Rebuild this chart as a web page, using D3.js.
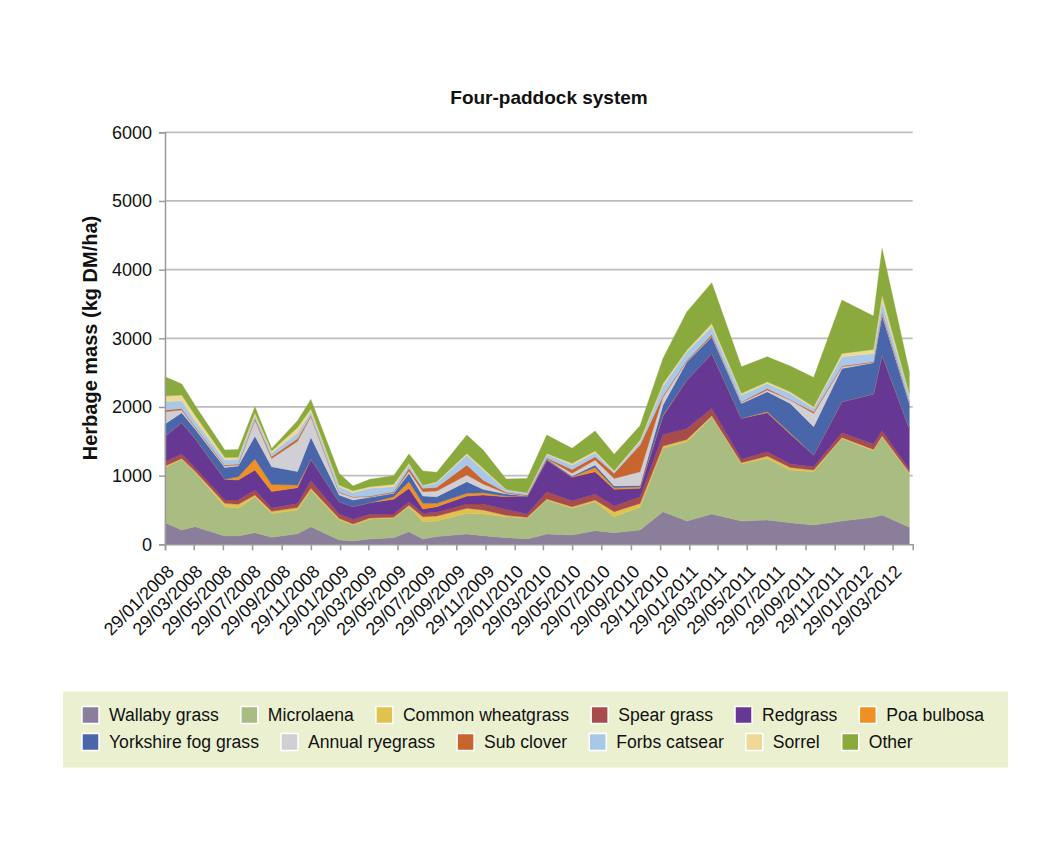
<!DOCTYPE html>
<html><head><meta charset="utf-8">
<script src="https://cdn.jsdelivr.net/npm/d3@7"></script>
<style>
body{margin:0;background:#fff;}
svg{display:block;font-family:"Liberation Sans",Arial,Helvetica,sans-serif;}
</style>
</head><body>
<svg id="c" width="1040" height="868"></svg>
<script>
// ---- data ----
const dates = ["29/01/2008","04/03/2008","01/04/2008","02/06/2008","30/06/2008","04/08/2008","08/09/2008","01/11/2008","29/11/2008",
"27/01/2009","25/02/2009","01/04/2009","21/05/2009","22/06/2009","21/07/2009","19/08/2009","21/10/2009","24/11/2009",
"11/01/2010","24/02/2010","06/04/2010","29/05/2010","16/07/2010","25/08/2010","18/10/2010","05/12/2010",
"24/01/2011","17/03/2011","18/05/2011","11/07/2011","28/08/2011","16/10/2011","14/12/2011",
"18/02/2012","07/03/2012","03/05/2012"];

const seriesNames = ["Wallaby grass","Microlaena","Common wheatgrass","Spear grass","Redgrass","Poa bulbosa",
"Yorkshire fog grass","Annual ryegrass","Sub clover","Forbs catsear","Sorrel","Other"];

const wallabyGrass = [315,209,257,121,121,170,102,155,257,63,49,78,97,184,78,112,150,126,97,78,150,136,199,170,208,475,339,441,339,354,315,281,339,393,427,247];
const microlaena   = [805,1028,793,427,403,523,348,345,534,291,232,286,281,364,252,228,301,315,306,300,495,388,422,232,330,922,1155,1417,830,897,767,776,1203,970,1140,786];
const commonWheatgrass = [20,14,15,49,58,25,30,35,24,24,15,19,15,20,73,72,73,59,19,15,15,24,24,73,58,34,34,15,19,34,38,25,15,19,15,15];
const spearGrass   = [63,63,45,48,63,72,50,60,112,63,68,54,48,53,48,54,63,87,87,48,107,87,87,83,97,169,160,107,49,63,49,48,68,78,72,43];
const redgrass     = [373,456,430,301,291,292,240,230,310,180,184,169,214,194,63,82,116,131,185,253,460,340,325,242,122,270,704,800,597,568,436,170,451,728,1102,597];
const poaBulbosa   = [0,0,0,0,49,160,100,38,0,0,0,0,39,97,83,49,39,34,9,0,0,9,63,24,24,10,0,0,0,15,15,0,0,0,0,0];
const yorkshireFog = [175,146,140,174,155,334,260,197,323,97,97,78,48,121,106,97,170,48,30,9,15,10,34,25,19,150,267,243,218,291,432,412,485,456,582,364];
const annualRyegrass = [179,39,20,20,14,233,120,440,300,34,39,10,10,34,63,82,97,78,9,5,5,39,73,111,199,110,10,10,15,24,48,194,24,5,24,9];
const subClover    = [25,24,15,14,15,24,30,40,20,10,10,9,14,39,49,54,145,58,15,10,14,58,49,73,388,25,14,24,9,24,10,25,15,10,25,15];
const forbsCatsear = [121,111,85,73,68,49,50,80,50,77,58,112,73,48,34,67,146,146,34,24,49,63,58,24,49,135,121,111,97,73,87,49,131,121,145,97];
const sorrel       = [82,83,80,39,29,34,30,80,45,24,29,24,34,25,10,15,24,24,9,10,14,25,24,15,24,40,25,49,25,24,24,23,49,58,97,25];
const other        = [282,160,140,107,116,87,35,100,135,170,68,107,126,136,208,136,267,267,151,208,267,218,291,238,209,367,558,591,388,364,374,427,776,485,679,315];

const tickLabels = ["29/01/2008","29/03/2008","29/05/2008","29/07/2008","29/09/2008","29/11/2008",
"29/01/2009","29/03/2009","29/05/2009","29/07/2009","29/09/2009","29/11/2009",
"29/01/2010","29/03/2010","29/05/2010","29/07/2010","29/09/2010","29/11/2010",
"29/01/2011","29/03/2011","29/05/2011","29/07/2011","29/09/2011","29/11/2011",
"29/01/2012","29/03/2012"];
const yTicks = [0,1000,2000,3000,4000,5000,6000];
const axisEnd = "10/05/2012";

// ---- styles ----
const colors = ["#8a7e9b","#a9bc82","#e2c24e","#a84b4c","#663893","#ef9122",
"#4a66ab","#d0cfd3","#c8652f","#a9c8e8","#eed996","#8aaa3d"];

const seriesValues = [wallabyGrass,microlaena,commonWheatgrass,spearGrass,redgrass,poaBulbosa,
yorkshireFog,annualRyegrass,subClover,forbsCatsear,sorrel,other];

const parse = d3.timeParse("%d/%m/%Y");
const rows = dates.map((d,i)=>{
  const r = {date: parse(d)};
  seriesNames.forEach((k,j)=>{ r[k] = seriesValues[j][i]; });
  return r;
});

const svg = d3.select("#c");
const L = 165, R = 912.7, T = 132.3, B = 544.3;
const x = d3.scaleTime().domain([parse(tickLabels[0]), parse(axisEnd)]).range([L, R]);
const y = d3.scaleLinear().domain([0,6000]).range([B, T]);

// gridlines
svg.append("g").selectAll("line").data(yTicks.filter(v=>v>0)).join("line")
  .attr("x1", L).attr("x2", R).attr("y1", d=>y(d)).attr("y2", d=>y(d))
  .attr("stroke","#bdbdbd").attr("stroke-width",1.8);

// stacked areas
const stacked = d3.stack().keys(seriesNames)(rows);
const area = d3.area().x(d=>x(d.data.date)).y0(d=>y(d[0])).y1(d=>y(d[1]));
svg.append("g").selectAll("path").data(stacked).join("path")
  .attr("d", area)
  .attr("fill", (d,i)=>colors[i])
  .attr("stroke", (d,i)=>colors[i])
  .attr("stroke-width", 0.4);

// y axis
const yAxis = d3.axisLeft(y).tickValues(yTicks).tickSize(6).tickPadding(7).tickFormat(d3.format("d"));
const gy = svg.append("g").attr("transform",`translate(${L},0)`).call(yAxis);
gy.select(".domain").attr("stroke","#9a9a9a").attr("stroke-width",1.5);
gy.selectAll(".tick line").attr("stroke","#9a9a9a").attr("stroke-width",1.5);
gy.selectAll(".tick text").attr("font-size",18).attr("fill","#111")
  .attr("font-family","'Liberation Sans',Arial,sans-serif");

// x axis
const xTickDates = tickLabels.map(parse);
const xAxis = d3.axisBottom(x).tickValues(xTickDates).tickSize(6).tickFormat((d,i)=>tickLabels[i]);
const gx = svg.append("g").attr("transform",`translate(0,${B})`).call(xAxis);
gx.select(".domain").attr("stroke","#9a9a9a").attr("stroke-width",1.5);
gx.selectAll(".tick line").attr("stroke","#9a9a9a").attr("stroke-width",1.5);
gx.selectAll(".tick text")
  .attr("font-size",18).attr("fill","#111")
  .attr("font-family","'Liberation Sans',Arial,sans-serif")
  .attr("text-anchor","end")
  .attr("y",0).attr("dy","0.35em")
  .attr("transform","translate(5,24) rotate(-45)");

// title
svg.append("text").attr("x",549).attr("y",104).attr("text-anchor","middle")
  .attr("font-size",19).attr("font-weight","bold").attr("fill","#111")
  .text("Four-paddock system");

// y label
svg.append("text").attr("transform","translate(97,338) rotate(-90)")
  .attr("text-anchor","middle").attr("font-size",20).attr("font-weight","bold").attr("fill","#111")
  .text("Herbage mass (kg DM/ha)");

// legend
const lg = svg.append("g");
lg.append("rect").attr("x",63).attr("y",691.5).attr("width",945).attr("height",76).attr("fill","#ebf1d0");
const rowsLegend = [seriesNames.slice(0,6), seriesNames.slice(6)];
const rowY = [715, 742];
rowsLegend.forEach((names, r)=>{
  let cx = 82;
  names.forEach(n=>{
    const idx = seriesNames.indexOf(n);
    const g = lg.append("g");
    g.append("rect").attr("x",cx).attr("y",rowY[r]-8.5).attr("width",17).attr("height",17)
      .attr("fill",colors[idx]).attr("stroke","#fff").attr("stroke-width",1.5);
    const t = g.append("text").attr("x",cx+27).attr("y",rowY[r]).attr("dy","0.36em")
      .attr("font-size",17.6).attr("fill","#111").text(n);
    cx = cx + 27 + t.node().getComputedTextLength() + 22;
  });
});
</script>
</body></html>
